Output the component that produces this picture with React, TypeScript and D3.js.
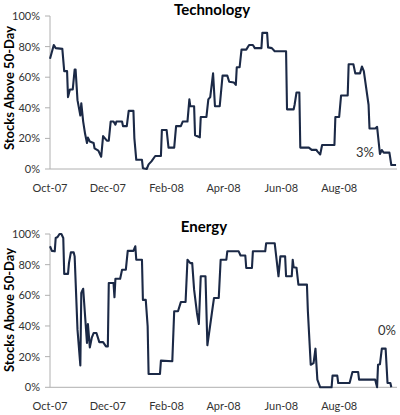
import React from "react";
import * as d3 from "d3";

const TECH_SERIES: [string, number][] = [
  ["2007-10-01", 72], ["2007-10-05", 81], ["2007-10-07", 79], ["2007-10-14", 78.5],
  ["2007-10-16", 64], ["2007-10-19", 64], ["2007-10-20", 47], ["2007-10-22", 52],
  ["2007-10-25", 52], ["2007-10-27", 65], ["2007-10-28", 65], ["2007-10-30", 45],
  ["2007-11-02", 35], ["2007-11-03", 43], ["2007-11-05", 31], ["2007-11-07", 23],
  ["2007-11-09", 17], ["2007-11-10", 20.5], ["2007-11-12", 18], ["2007-11-16", 17],
  ["2007-11-17", 13.5], ["2007-11-21", 12], ["2007-11-24", 8], ["2007-11-26", 21.5],
  ["2007-11-30", 18.5], ["2007-12-02", 18.5], ["2007-12-04", 31], ["2007-12-07", 31],
  ["2007-12-09", 29], ["2007-12-10", 31], ["2007-12-16", 31], ["2007-12-17", 28],
  ["2007-12-21", 28], ["2007-12-23", 38], ["2007-12-28", 38], ["2007-12-29", 20],
  ["2007-12-31", 6], ["2008-01-06", 6], ["2008-01-07", 0.5], ["2008-01-11", 0],
  ["2008-01-13", 3], ["2008-01-16", 5], ["2008-01-20", 8.5], ["2008-01-26", 8.5],
  ["2008-01-27", 25.5], ["2008-02-01", 25.5], ["2008-02-03", 14], ["2008-02-09", 14],
  ["2008-02-11", 28], ["2008-02-16", 28], ["2008-02-18", 31], ["2008-02-23", 31],
  ["2008-02-25", 45.5], ["2008-02-26", 41], ["2008-03-01", 41], ["2008-03-02", 22],
  ["2008-03-07", 20.7], ["2008-03-08", 34], ["2008-03-14", 34], ["2008-03-16", 45.5],
  ["2008-03-18", 47], ["2008-03-21", 62.5], ["2008-03-23", 41], ["2008-03-28", 41],
  ["2008-03-31", 61], ["2008-04-05", 61], ["2008-04-07", 57], ["2008-04-12", 56.5],
  ["2008-04-14", 55], ["2008-04-15", 66.5], ["2008-04-18", 66.5], ["2008-04-20", 78],
  ["2008-04-25", 78], ["2008-04-28", 81], ["2008-05-02", 81], ["2008-05-04", 79],
  ["2008-05-11", 79], ["2008-05-12", 89], ["2008-05-17", 89], ["2008-05-18", 79.5],
  ["2008-05-22", 79], ["2008-05-25", 77], ["2008-06-06", 77], ["2008-06-07", 39],
  ["2008-06-14", 39], ["2008-06-15", 42], ["2008-06-17", 50], ["2008-06-20", 50],
  ["2008-06-21", 14], ["2008-06-30", 14], ["2008-07-03", 12.5], ["2008-07-08", 12.5],
  ["2008-07-09", 11.5], ["2008-07-12", 9.5], ["2008-07-14", 15.7], ["2008-07-27", 15.7],
  ["2008-07-28", 34], ["2008-08-01", 34], ["2008-08-03", 48], ["2008-08-10", 48],
  ["2008-08-11", 68.5], ["2008-08-16", 68.5], ["2008-08-18", 62.5], ["2008-08-23", 62.5],
  ["2008-08-25", 67], ["2008-08-27", 64], ["2008-09-01", 42], ["2008-09-02", 26.5],
  ["2008-09-08", 26.5], ["2008-09-10", 27.5], ["2008-09-13", 9.8], ["2008-09-15", 12.4],
  ["2008-09-17", 10.7], ["2008-09-23", 10.7], ["2008-09-25", 2.6], ["2008-09-30", 2.6],
];

const ENERGY_SERIES: [string, number][] = [
  ["2007-10-01", 92], ["2007-10-03", 89], ["2007-10-06", 88.7], ["2007-10-07", 97.4],
  ["2007-10-09", 98], ["2007-10-11", 100], ["2007-10-13", 100], ["2007-10-15", 97.4],
  ["2007-10-16", 74], ["2007-10-20", 74], ["2007-10-21", 81], ["2007-10-23", 88],
  ["2007-10-26", 88], ["2007-10-27", 85.4], ["2007-10-30", 37.6], ["2007-11-02", 14.3],
  ["2007-11-03", 61.5], ["2007-11-05", 64.3], ["2007-11-09", 29], ["2007-11-10", 41.3],
  ["2007-11-12", 26], ["2007-11-14", 32.2], ["2007-11-16", 35.4], ["2007-11-19", 35.4],
  ["2007-11-22", 29.5], ["2007-11-26", 29.5], ["2007-11-29", 26.7], ["2007-12-01", 26.7],
  ["2007-12-02", 68], ["2007-12-07", 68], ["2007-12-08", 58.7], ["2007-12-09", 70.8],
  ["2007-12-14", 70.8], ["2007-12-16", 76.7], ["2007-12-20", 76.7], ["2007-12-22", 89],
  ["2007-12-28", 89], ["2007-12-30", 92], ["2007-12-31", 83.2], ["2008-01-06", 83.2],
  ["2008-01-07", 57], ["2008-01-10", 57], ["2008-01-12", 39.8], ["2008-01-13", 8.7],
  ["2008-01-25", 8.7], ["2008-01-26", 17.4], ["2008-02-07", 17], ["2008-02-09", 49.6],
  ["2008-02-13", 49.6], ["2008-02-16", 55.6], ["2008-02-21", 55.6], ["2008-02-23", 83.2],
  ["2008-02-26", 81], ["2008-02-28", 81], ["2008-03-01", 63.7], ["2008-03-04", 48.5],
  ["2008-03-06", 41.3], ["2008-03-08", 72.4], ["2008-03-13", 72.4], ["2008-03-15", 27.4],
  ["2008-03-20", 49.6], ["2008-03-22", 58.3], ["2008-03-27", 58.3], ["2008-03-29", 83.2],
  ["2008-04-04", 83.2], ["2008-04-05", 88.7], ["2008-04-17", 88.7], ["2008-04-19", 86],
  ["2008-04-24", 86], ["2008-04-25", 77.8], ["2008-05-01", 77.8], ["2008-05-02", 88.7],
  ["2008-05-15", 88.7], ["2008-05-16", 94], ["2008-05-25", 94], ["2008-05-29", 72.4],
  ["2008-05-31", 85.4], ["2008-06-05", 85.4], ["2008-06-06", 72.4], ["2008-06-12", 72.4],
  ["2008-06-13", 83.2], ["2008-06-14", 78.3], ["2008-06-17", 78], ["2008-06-19", 67],
  ["2008-06-28", 67], ["2008-06-29", 49.6], ["2008-07-02", 14.7], ["2008-07-05", 15.8],
  ["2008-07-07", 25.2], ["2008-07-09", 5], ["2008-07-12", 0], ["2008-07-24", 0],
  ["2008-07-25", 7.6], ["2008-07-30", 7.6], ["2008-07-31", 2.8], ["2008-08-12", 2.8],
  ["2008-08-15", 10], ["2008-08-21", 10], ["2008-08-22", 5], ["2008-09-08", 5],
  ["2008-09-10", 0], ["2008-09-11", 14.7], ["2008-09-13", 15], ["2008-09-15", 25.2],
  ["2008-09-19", 25.2], ["2008-09-21", 2.8], ["2008-09-24", 2.8], ["2008-09-25", 0],
];

const Y_TICKS = [0, 20, 40, 60, 80, 100];
const X_TICKS = ["2007-10-01", "2007-12-01", "2008-02-01", "2008-04-01", "2008-06-01", "2008-08-01"];
const X_DOMAIN = ["2007-10-01", "2008-10-01"];

const PANELS = [
  { title: "Technology", data: TECH_SERIES, last: "3%" },
  { title: "Energy", data: ENERGY_SERIES, last: "0%" },
];

const FONT = "Lato, 'Open Sans', sans-serif";
const LINE = "#1b2946";
const AXIS = "#b0b0b0";
const TEXT = "#333333";

const layout = [
  { top: 16, bottom: 169, titleX: 212, titleY: 15, yLabelY: 88, xLabelY: 192, lastX: 356, lastY: 157 },
  { top: 234, bottom: 387.3, titleX: 204, titleY: 232, yLabelY: 310, xLabelY: 410, lastX: 378, lastY: 335 },
];

export default function App() {
  const parse = d3.utcParse("%Y-%m-%d");
  const x = d3.scaleUtc().domain(X_DOMAIN.map((d) => parse(d) as Date)).range([50, 397]);
  const fmt = d3.utcFormat("%b-%y");

  return (
    <svg
      width={400}
      height={415}
      style={{ position: "absolute", left: 0, top: 0, background: "#fff" }}
      fontFamily={FONT}
    >
      {PANELS.map((p, i) => {
        const L = layout[i];
        const y = d3.scaleLinear().domain([0, 100]).range([L.bottom, L.top]);
        const line = d3
          .line<[string, number]>()
          .x((d) => x(parse(d[0]) as Date))
          .y((d) => y(d[1]));
        return (
          <g key={p.title}>
            <text x={L.titleX} y={L.titleY} textAnchor="middle" fontWeight="bold" fontSize={15} fill="#000">
              {p.title}
            </text>
            <text
              transform={`translate(13.5, ${L.yLabelY}) rotate(-90)`}
              textAnchor="middle"
              fontWeight="bold"
              fontSize={13}
              fill="#000"
            >
              Stocks Above 50-Day
            </text>
            <line x1={50} x2={50} y1={y(100)} y2={y(0)} stroke={AXIS} strokeWidth={1} />
            <line x1={50} x2={397} y1={y(0)} y2={y(0)} stroke={AXIS} strokeWidth={1} />
            {Y_TICKS.map((t) => (
              <g key={t}>
                <line x1={45} x2={50} y1={y(t)} y2={y(t)} stroke={AXIS} strokeWidth={1} />
                <text x={40} y={y(t)} dy="0.36em" textAnchor="end" fontSize={11} fill={TEXT}>
                  {t}%
                </text>
              </g>
            ))}
            {X_TICKS.map((t) => (
              <text key={t} x={x(parse(t) as Date)} y={L.xLabelY} textAnchor="middle" fontSize={11} fill={TEXT}>
                {fmt(parse(t) as Date)}
              </text>
            ))}
            <path d={line(p.data) || ""} fill="none" stroke={LINE} strokeWidth={2.1} strokeLinejoin="round" />
            <text x={L.lastX} y={L.lastY} fontSize={13} fill={TEXT}>
              {p.last}
            </text>
          </g>
        );
      })}
    </svg>
  );
}
